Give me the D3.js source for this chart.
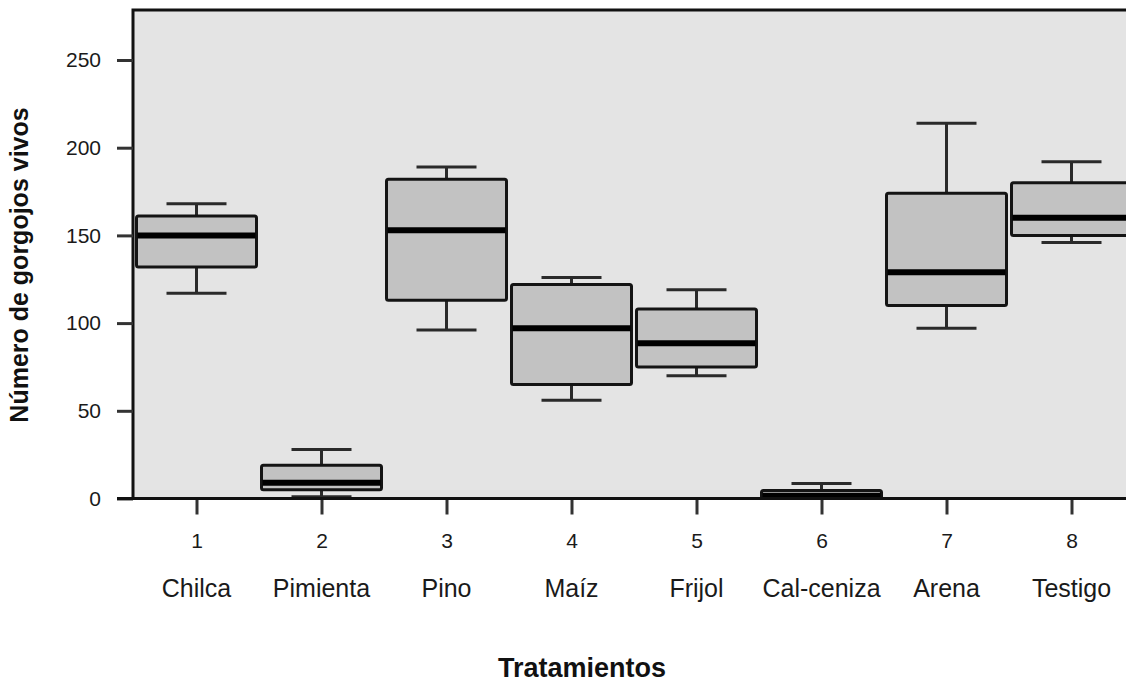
<!DOCTYPE html>
<html>
<head>
<meta charset="utf-8">
<script src="https://cdn.jsdelivr.net/npm/d3@7"></script>
<style>
  html, body { margin: 0; padding: 0; background: #ffffff; }
  svg { display: block; }
  text { font-family: "Liberation Sans", Arial, sans-serif; }
</style>
</head>
<body>
<svg id="chart" width="1126" height="685"></svg>
<script>
// ---- data ----
const categories = ["1", "2", "3", "4", "5", "6", "7", "8"];
const treatmentNames = ["Chilca", "Pimienta", "Pino", "Maíz", "Frijol", "Cal-ceniza", "Arena", "Testigo"];
const whiskerLow  = [117, 1,   96,  56,  70,  0,   97,  146];
const q1          = [132, 5,   113, 65,  75,  0,   110, 150];
const median      = [150, 9,   153, 97,  88.5, 1.5, 129, 160];
const q3          = [161, 19,  182, 122, 108, 4.5, 174, 180];
const whiskerHigh = [168, 28,  189, 126, 119, 8.5, 214, 192];
const yTicks = [0, 50, 100, 150, 200, 250];
const yTitle = "Número de gorgojos vivos";
const xTitle = "Tratamientos";

// ---- layout ----
const svg = d3.select("#chart");
const plotLeft = 133, plotRight = 1134, plotTop = 10, plotBottom = 498.5;

const x = d3.scalePoint().domain(categories).range([plotLeft + 1, plotRight]).padding(0.5);
const y = d3.scaleLinear().domain([0, 250]).range([plotBottom, 60]);
const boxW = x.step() * 0.96;
const capW = boxW / 2;

// plot background
svg.append("rect")
  .attr("x", plotLeft).attr("y", plotTop)
  .attr("width", plotRight - plotLeft).attr("height", plotBottom - plotTop)
  .attr("fill", "#e4e4e4");

const data = categories.map((c, i) => ({
  cat: c, name: treatmentNames[i],
  lo: whiskerLow[i], q1: q1[i], med: median[i], q3: q3[i], hi: whiskerHigh[i]
}));

const g = svg.append("g");
const boxes = g.selectAll("g.box").data(data).join("g").attr("class", "box");

// whiskers
boxes.append("line")
  .attr("x1", d => x(d.cat)).attr("x2", d => x(d.cat))
  .attr("y1", d => y(d.q3)).attr("y2", d => y(d.hi))
  .attr("stroke", "#2a2a2a").attr("stroke-width", 3);
boxes.append("line")
  .attr("x1", d => x(d.cat)).attr("x2", d => x(d.cat))
  .attr("y1", d => y(d.q1)).attr("y2", d => y(d.lo))
  .attr("stroke", "#2a2a2a").attr("stroke-width", 3);
boxes.append("line")
  .attr("x1", d => x(d.cat) - capW / 2).attr("x2", d => x(d.cat) + capW / 2)
  .attr("y1", d => y(d.hi)).attr("y2", d => y(d.hi))
  .attr("stroke", "#2a2a2a").attr("stroke-width", 3);
boxes.append("line")
  .attr("x1", d => x(d.cat) - capW / 2).attr("x2", d => x(d.cat) + capW / 2)
  .attr("y1", d => y(d.lo)).attr("y2", d => y(d.lo))
  .attr("stroke", "#2a2a2a").attr("stroke-width", 3);

// boxes
boxes.append("rect")
  .attr("x", d => x(d.cat) - boxW / 2)
  .attr("y", d => y(d.q3))
  .attr("width", boxW)
  .attr("height", d => y(d.q1) - y(d.q3))
  .attr("rx", 2)
  .attr("fill", "#c2c2c2")
  .attr("stroke", "#141414").attr("stroke-width", 3);

// medians
boxes.append("line")
  .attr("x1", d => x(d.cat) - boxW / 2 + 1).attr("x2", d => x(d.cat) + boxW / 2 - 1)
  .attr("y1", d => y(d.med)).attr("y2", d => y(d.med))
  .attr("stroke", "#000").attr("stroke-width", 6);

// frame (top and left)
svg.append("path")
  .attr("d", `M${plotLeft},${plotBottom} V${plotTop} H${plotRight}`)
  .attr("fill", "none").attr("stroke", "#111").attr("stroke-width", 3);

// y axis
const yAxis = svg.append("g")
  .attr("transform", `translate(${plotLeft},0)`)
  .call(d3.axisLeft(y).tickValues(yTicks).tickSize(16).tickPadding(16));
yAxis.attr("font-size", 21).attr("font-family", "Liberation Sans, Arial, sans-serif");
yAxis.select(".domain").remove();
yAxis.selectAll(".tick line").attr("stroke", "#333").attr("stroke-width", 3);
yAxis.selectAll(".tick text").attr("fill", "#1a1a1a");

// x axis
const xAxis = svg.append("g")
  .attr("transform", `translate(0,${plotBottom})`)
  .call(d3.axisBottom(x).tickSize(16).tickPadding(19));
xAxis.attr("font-size", 21).attr("font-family", "Liberation Sans, Arial, sans-serif");
xAxis.select(".domain").remove();
xAxis.selectAll(".tick line").attr("stroke", "#333").attr("stroke-width", 3);
xAxis.selectAll(".tick text").attr("fill", "#1a1a1a");

svg.append("line")
  .attr("x1", plotLeft - 16).attr("x2", 1126)
  .attr("y1", plotBottom).attr("y2", plotBottom)
  .attr("stroke", "#111").attr("stroke-width", 3);

// treatment names
svg.append("g").selectAll("text").data(data).join("text")
  .attr("x", d => x(d.cat)).attr("y", 597)
  .attr("text-anchor", "middle")
  .attr("font-size", 25).attr("fill", "#1a1a1a")
  .text(d => d.name);

// axis titles
svg.append("text")
  .attr("transform", "translate(28,265) rotate(-90)")
  .attr("text-anchor", "middle")
  .attr("font-size", 25).attr("font-weight", "bold").attr("fill", "#111")
  .text(yTitle);

svg.append("text")
  .attr("x", 582).attr("y", 677)
  .attr("text-anchor", "middle")
  .attr("font-size", 27).attr("font-weight", "bold").attr("fill", "#111")
  .text(xTitle);
</script>
</body>
</html>
